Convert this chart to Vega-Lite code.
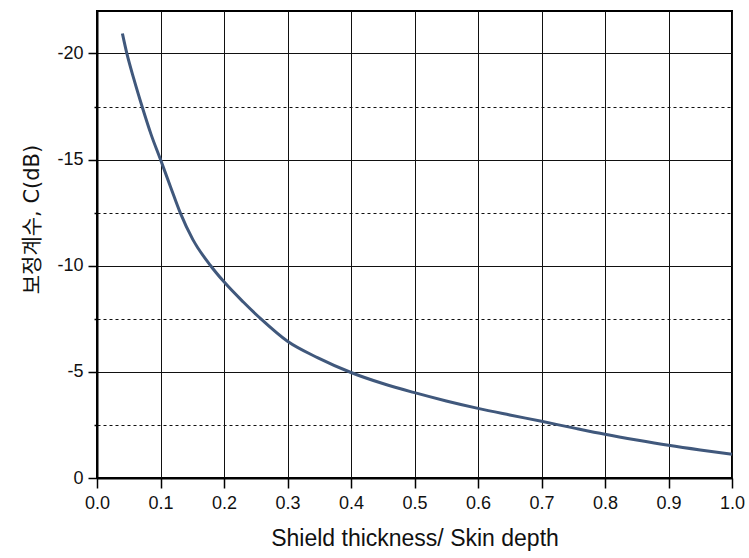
{
  "$schema": "https://vega.github.io/schema/vega-lite/v6.json",
  "width": 635,
  "height": 467,
  "autosize": {"type": "none"},
  "padding": {"left": 97, "top": 11, "right": 17, "bottom": 80},
  "background": "white",
  "config": {
    "view": {"stroke": "black", "strokeWidth": 2},
    "font": "Liberation Sans",
    "axis": {
      "domainColor": "black",
      "domainWidth": 2,
      "tickColor": "black",
      "tickWidth": 1.5,
      "gridColor": "#111111",
      "gridWidth": 1,
      "gridOpacity": 1,
      "labelFont": "Liberation Sans",
      "labelFontSize": 18,
      "labelColor": "#111111",
      "labelFlush": false,
      "titleFont": "Liberation Sans, Noto Sans CJK KR",
      "titleFontSize": 22,
      "titleFontWeight": "normal",
      "titleColor": "#111111"
    }
  },
  "data": {
    "values": [
      {"t": 0.04, "c": -20.94},
      {"t": 0.047, "c": -20.0},
      {"t": 0.058, "c": -18.8},
      {"t": 0.071, "c": -17.5},
      {"t": 0.085, "c": -16.2},
      {"t": 0.1, "c": -15.0},
      {"t": 0.116, "c": -13.7},
      {"t": 0.131, "c": -12.5},
      {"t": 0.151, "c": -11.23},
      {"t": 0.179, "c": -10.0},
      {"t": 0.2, "c": -9.24},
      {"t": 0.23, "c": -8.3},
      {"t": 0.259, "c": -7.47},
      {"t": 0.3, "c": -6.44},
      {"t": 0.348, "c": -5.66},
      {"t": 0.4, "c": -4.97},
      {"t": 0.45, "c": -4.45},
      {"t": 0.5, "c": -4.02},
      {"t": 0.55, "c": -3.63},
      {"t": 0.6, "c": -3.28},
      {"t": 0.65, "c": -2.97},
      {"t": 0.7, "c": -2.67},
      {"t": 0.75, "c": -2.36},
      {"t": 0.8, "c": -2.06},
      {"t": 0.85, "c": -1.79},
      {"t": 0.9, "c": -1.54},
      {"t": 0.95, "c": -1.32},
      {"t": 1.0, "c": -1.12}
    ]
  },
  "mark": {"type": "line", "interpolate": "monotone", "color": "#40587c", "strokeWidth": 3},
  "encoding": {
    "x": {
      "field": "t",
      "type": "quantitative",
      "scale": {"domain": [0, 1], "nice": false, "zero": false},
      "axis": {
        "title": "Shield thickness/ Skin depth",
        "titleFontSize": 23,
        "values": [0, 0.1, 0.2, 0.3, 0.4, 0.5, 0.6, 0.7, 0.8, 0.9, 1.0],
        "format": ".1f",
        "tickSize": 10,
        "labelPadding": 6,
        "titlePadding": 15,
        "grid": true
      }
    },
    "y": {
      "field": "c",
      "type": "quantitative",
      "scale": {"domain": [0, -22], "nice": false, "zero": false},
      "axis": {
        "title": "보정계수, C(dB)",
        "titleFont": "DejaVu Sans, Noto Sans CJK KR",
        "titleFontSize": 21,
        "titleY": 208,
        "values": [0, -2.5, -5, -7.5, -10, -12.5, -15, -17.5, -20],
        "labelExpr": "datum.value % 5 == 0 ? toString(datum.value) : ''",
        "tickSize": {"condition": {"test": "datum.value % 5 == 0", "value": 9}, "value": 3},
        "gridDash": {"condition": {"test": "datum.value % 5 == 0", "value": []}, "value": [3, 3]},
        "labelPadding": 5,
        "titlePadding": 14,
        "grid": true
      }
    }
  }
}
